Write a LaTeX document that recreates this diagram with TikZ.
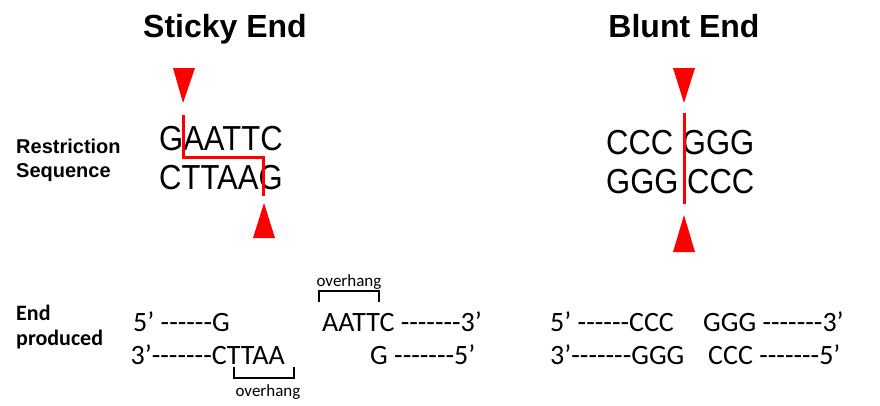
\documentclass[tikz,border=0pt]{standalone}
\usepackage{fontspec}
\setmainfont{Liberation Sans}
\newfontfamily\calfont{Carlito}
\begin{document}
\begin{tikzpicture}[x=1pt,y=-1pt]

%
% Styles
%
\tikzstyle{title} = [font=\bfseries\fontsize{32}{36}\selectfont,inner sep=0pt,anchor=base]
\tikzstyle{rowlabel} = [font=\bfseries\fontsize{20}{24}\selectfont,inner sep=0pt,align=left,anchor=base west]
\tikzstyle{endlabel} = [font=\calfont\bfseries\fontsize{22}{25}\selectfont,inner sep=0pt,align=left,anchor=base west]
\tikzstyle{site} = [font=\fontsize{31}{31}\selectfont,inner sep=0pt,anchor=base west]
\tikzstyle{strand} = [font=\calfont\fontsize{28}{28}\selectfont,inner sep=0pt]
\tikzstyle{tag} = [font=\calfont\fontsize{17}{17}\selectfont,inner sep=0pt,anchor=base]
\tikzstyle{cut} = [draw=red,line width=3pt]
\tikzstyle{bracket} = [draw=black,line width=1.5pt]

\useasboundingbox (0,0) rectangle (880,405);

\node[title] (sticky) at (225,37) {Sticky End};
\node[title] (blunt)  at (684,37) {Blunt End};

% base of a two-line label is its last line
\node[rowlabel] (restr) at (16,177) {Restriction\\Sequence};
\node[endlabel] (prod)  at (16,345) {End\\produced};

% restriction sites
\node[site] (s1) at (159,150) {\scalebox{1}[1.12]{GAATTC}};
\node[site] (s2) at (159,189) {\scalebox{1}[1.12]{CTTAAG}};
\node[site] (b1) at (606,154) {\scalebox{1}[1.12]{CCC GGG}};
\node[site] (b2) at (606,193) {\scalebox{1}[1.12]{GGG CCC}};

% cuts
\fill[red] (173,68) -- (195,68) -- (183,103) -- cycle;
\fill[red] (253,238) -- (275,238) -- (264,203) -- cycle;
\draw[cut] (183,115) |- (263,157) -- (263,196);

\fill[red] (673,68) -- (695,68) -- (684,103) -- cycle;
\fill[red] (673,252) -- (695,252) -- (684,215) -- cycle;
\draw[cut] (684,113) -- (684,204);

% ends produced
\node[strand,anchor=base east] (e1) at (230,331) {5’ ------G};
\node[strand,anchor=base east] (e2) at (285,364) {3’-------CTTAA};
\node[strand,anchor=base west] (e3) at (322,331) {AATTC -------3’};
\node[strand,anchor=base west] (e4) at (370,364) {G -------5’};

\node[tag] (t1) at (349,286) {overhang};
\draw[bracket] (319,302) |- (379,291) -- (379,302);
\node[tag] (t2) at (268,396) {overhang};
\draw[bracket] (234,367) |- (294,378) -- (294,367);

\node[strand,anchor=base west] (f1) at (550,331) {5’ ------CCC};
\node[strand,anchor=base west] (f2) at (550,364) {3’-------GGG};
\node[strand,anchor=base west] (f3) at (703,331) {GGG -------3’};
\node[strand,anchor=base west] (f4) at (708,364) {CCC -------5’};

\end{tikzpicture}
\end{document}
